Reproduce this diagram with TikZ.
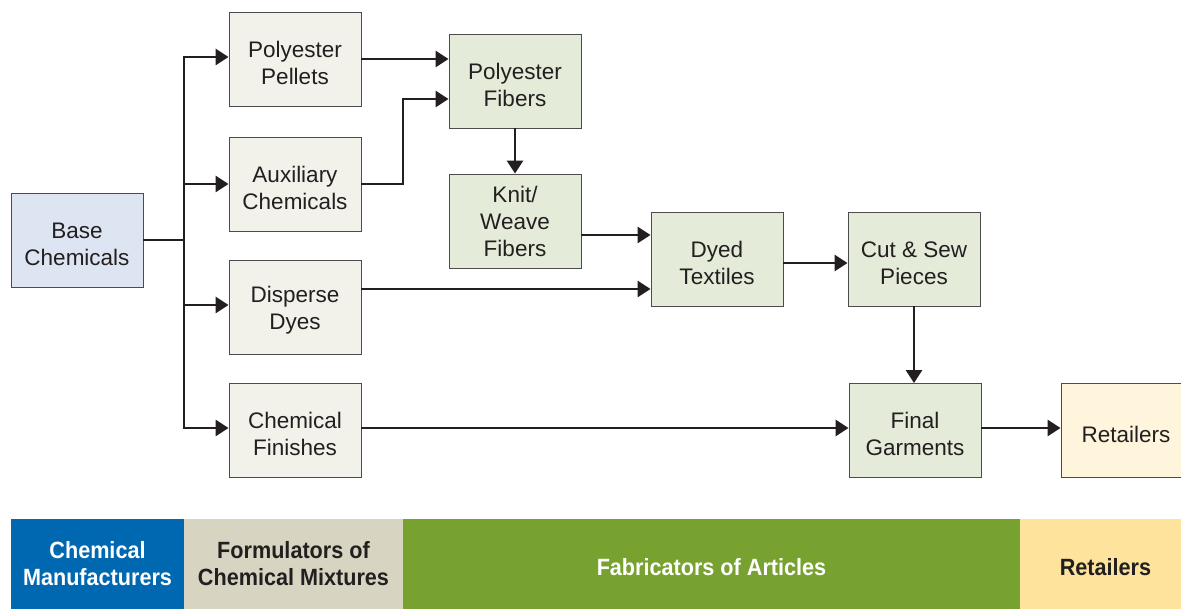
\documentclass[tikz,border=0pt]{standalone}
\usepackage{fontspec}
\setmainfont{Liberation Sans}
\newfontfamily\bandfont[FakeStretch=0.92]{Liberation Sans}
\usetikzlibrary{arrows.meta}
\newcommand\lsup{\rule{0pt}{23.5pt}}
\newcommand\bsup{\rule{0pt}{23pt}}
\definecolor{bluebox}{HTML}{DDE5F3}
\definecolor{beigebox}{HTML}{F2F1EA}
\definecolor{greenbox}{HTML}{E4EBD8}
\definecolor{yellowbox}{HTML}{FEF5DC}
\definecolor{bandblue}{HTML}{0068B0}
\definecolor{bandbeige}{HTML}{D8D4C2}
\definecolor{bandgreen}{HTML}{78A22F}
\definecolor{bandyellow}{HTML}{FDE39C}
\definecolor{txt}{HTML}{231F20}
\tikzset{
  box/.style={draw=black!70, line width=0.9pt, minimum width=132pt, minimum height=94pt,
    align=center, font=\fontsize{22.5}{27}\selectfont, text=txt, inner sep=0pt},
  conn/.style={line width=2.7pt, draw=txt},
  arr/.style={conn, -{Triangle[length=13pt,width=16pt]}},
  band/.style={draw=none, minimum height=90pt, inner sep=0pt, align=center,
    font=\bandfont\bfseries\fontsize{23.5}{27}\selectfont},
}
\begin{document}
\begin{tikzpicture}[x=1pt,y=-1pt]
\useasboundingbox (0,0) rectangle (1181,609);
% boxes
\node[box, fill=bluebox] (base) at (77,240) {\lsup Base\\Chemicals};
\node[box, fill=beigebox] (pel) at (295,59) {\lsup Polyester\\Pellets};
\node[box, fill=beigebox] (aux) at (295,184) {\lsup Auxiliary\\Chemicals};
\node[box, fill=beigebox] (dis) at (295,307) {\lsup Disperse\\Dyes};
\node[box, fill=beigebox] (fin) at (295,430.5) {\lsup Chemical\\Finishes};
\node[box, fill=greenbox] (fib) at (515,81) {\lsup Polyester\\Fibers};
\node[box, fill=greenbox] (knit) at (515,221) {Knit/\\Weave\\Fibers};
\node[box, fill=greenbox] (dyed) at (717,259) {\lsup Dyed\\Textiles};
\node[box, fill=greenbox] (cut) at (914,259) {\lsup Cut \& Sew\\Pieces};
\node[box, fill=greenbox] (gar) at (915,430.5) {\lsup Final\\Garments};
\node[box, fill=yellowbox, minimum width=122pt] (ret) at (1122,430.5) {\lsup\hspace*{8pt}Retailers};
% connectors
\coordinate (trunk) at (184,240);
\coordinate (tt) at (184,57);
\coordinate (tb) at (184,428);
\coordinate (bend) at (403,99);
\draw[conn] (base.east) -- (trunk);
\draw[conn, line cap=rect] (tt) -- (tb);
\draw[arr] (tt) -- (tt -| pel.west);
\draw[arr] (184,184) -- (aux.west |- 0,184);
\draw[arr] (184,305) -- (dis.west |- 0,305);
\draw[arr] (tb) -- (tb -| fin.west);
\draw[arr] (pel.east |- 0,59) -- (fib.west |- 0,59);
\draw[arr] (aux.east) -- (bend |- aux.east) -- (bend) -- (bend -| fib.west);
\draw[arr] (fib.south) -- (knit.north);
\draw[arr] (knit.east |- 0,235) -- (dyed.west |- 0,235);
\draw[arr] (dis.east |- 0,289) -- (dyed.west |- 0,289);
\draw[arr] (dyed.east |- 0,263) -- (cut.west |- 0,263);
\draw[arr] (cut.south) -- (cut.south |- gar.north);
\draw[arr] (fin.east |- 0,428) -- (gar.west |- 0,428);
\draw[arr] (gar.east |- 0,428) -- (ret.west |- 0,428);
% band
\node[band, fill=bandblue, text=white, minimum width=173pt] (b1) at (97.5,564) {Chemical\\Manufacturers};
\node[band, fill=bandbeige, text=txt, minimum width=219pt] (b2) at (293.5,564) {Formulators of\\Chemical Mixtures};
\node[band, fill=bandgreen, text=white, minimum width=617pt] (b3) at (711.5,564) {\bsup Fabricators of Articles};
\node[band, fill=bandyellow, text=txt, minimum width=161pt] (b4) at (1100.5,564) {\bsup\hspace*{10pt}Retailers};
\end{tikzpicture}
\end{document}
